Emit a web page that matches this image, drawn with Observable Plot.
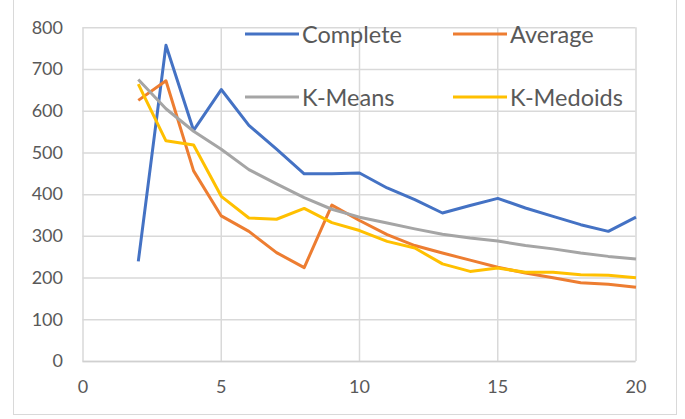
<!DOCTYPE html>
<html>
<head>
<meta charset="utf-8">
<script src="https://cdn.jsdelivr.net/npm/d3@7"></script>
<script src="https://cdn.jsdelivr.net/npm/@observablehq/plot@0.6"></script>
<style>
  html, body { margin: 0; padding: 0; background: #fff; }
  #wrap { position: relative; width: 685px; height: 419px; overflow: hidden; font-family: Lato, "Open Sans", sans-serif; }
  #frame { position: absolute; left: 13px; top: -2px; width: 664px; height: 417px; border: 1.5px solid #d9d9d9; box-sizing: border-box; pointer-events: none; }
  #legend { position: absolute; left: 0; top: 0; width: 685px; height: 419px; pointer-events: none; }
  .item { position: absolute; display: flex; align-items: center; font-size: 23.5px; color: #595959; white-space: nowrap; }
  .item svg { margin-right: 3px; }
</style>
</head>
<body>
<div id="wrap">
  <div id="chart"></div>
  <div id="frame"></div>
  <div id="legend"></div>
</div>
<script>
const xs = [2,3,4,5,6,7,8,9,10,11,12,13,14,15,16,17,18,19,20];
const complete = [240,758,554,652,566,509,450,450,452,416,388,356,374,391,368,348,328,312,346];
const average  = [626,673,457,349,312,261,225,375,338,304,278,260,243,226,212,201,189,185,178];
const kmeans   = [676,606,552,509,460,426,393,365,346,332,318,305,296,289,278,270,260,252,246];
const kmedoids = [665,529,519,396,344,341,367,333,314,288,272,234,216,224,214,214,208,207,201];
const seriesNames = ["Complete","Average","K-Means","K-Medoids"];
const seriesColors = ["#4472C4","#ED7D31","#A5A5A5","#FFC000"];
const yTicks = [0,100,200,300,400,500,600,700,800];
const xTicks = [0,5,10,15,20];

const allValues = [complete, average, kmeans, kmedoids];
const rows = [];
allValues.forEach((vals, s) => vals.forEach((v, i) => rows.push({series: seriesNames[s], x: xs[i], y: v})));

const chart = Plot.plot({
  width: 685,
  height: 419,
  marginLeft: 82.5,
  marginRight: 49.5,
  marginTop: 27.3,
  marginBottom: 58,
  style: {fontFamily: "Lato, 'Open Sans', sans-serif", fontSize: "18px", color: "#595959", background: "transparent"},
  x: {domain: [0, 20], ticks: xTicks, tickSize: 0, tickPadding: 19, label: null},
  y: {domain: [0, 800], ticks: yTicks, tickSize: 0, tickPadding: 20, label: null},
  color: {domain: seriesNames, range: seriesColors},
  marks: [
    Plot.gridY(yTicks, {stroke: "#d9d9d9", strokeOpacity: 1, strokeWidth: 1.5}),
    Plot.gridX(xTicks, {stroke: "#d9d9d9", strokeOpacity: 1, strokeWidth: 1.5}),
    Plot.ruleY([0], {stroke: "#d0d0d0", strokeWidth: 1.5}),
    Plot.axisX({ticks: xTicks, tickSize: 0, tickPadding: 19, fill: "#595959", fontSize: 18}),
    Plot.axisY({ticks: yTicks, tickSize: 0, tickPadding: 20, fill: "#595959", fontSize: 18}),
    Plot.line(rows, {x: "x", y: "y", z: "series", stroke: "series", strokeWidth: 3, strokeLinejoin: "round", strokeLinecap: "butt"})
  ]
});
document.getElementById("chart").appendChild(chart);

// Legend (2x2 grid inside plot area)
const legendPos = [[245, 34], [453, 34], [245, 97], [453, 97]];
const legend = document.getElementById("legend");
seriesNames.forEach((name, i) => {
  const d = document.createElement("div");
  d.className = "item";
  d.style.left = legendPos[i][0] + "px";
  d.style.top = (legendPos[i][1] - 15) + "px";
  d.style.height = "30px";
  d.innerHTML = `<svg width="54" height="6"><line x1="0" y1="3" x2="54" y2="3" stroke="${seriesColors[i]}" stroke-width="3"/></svg><span>${name}</span>`;
  legend.appendChild(d);
});
</script>
</body>
</html>
